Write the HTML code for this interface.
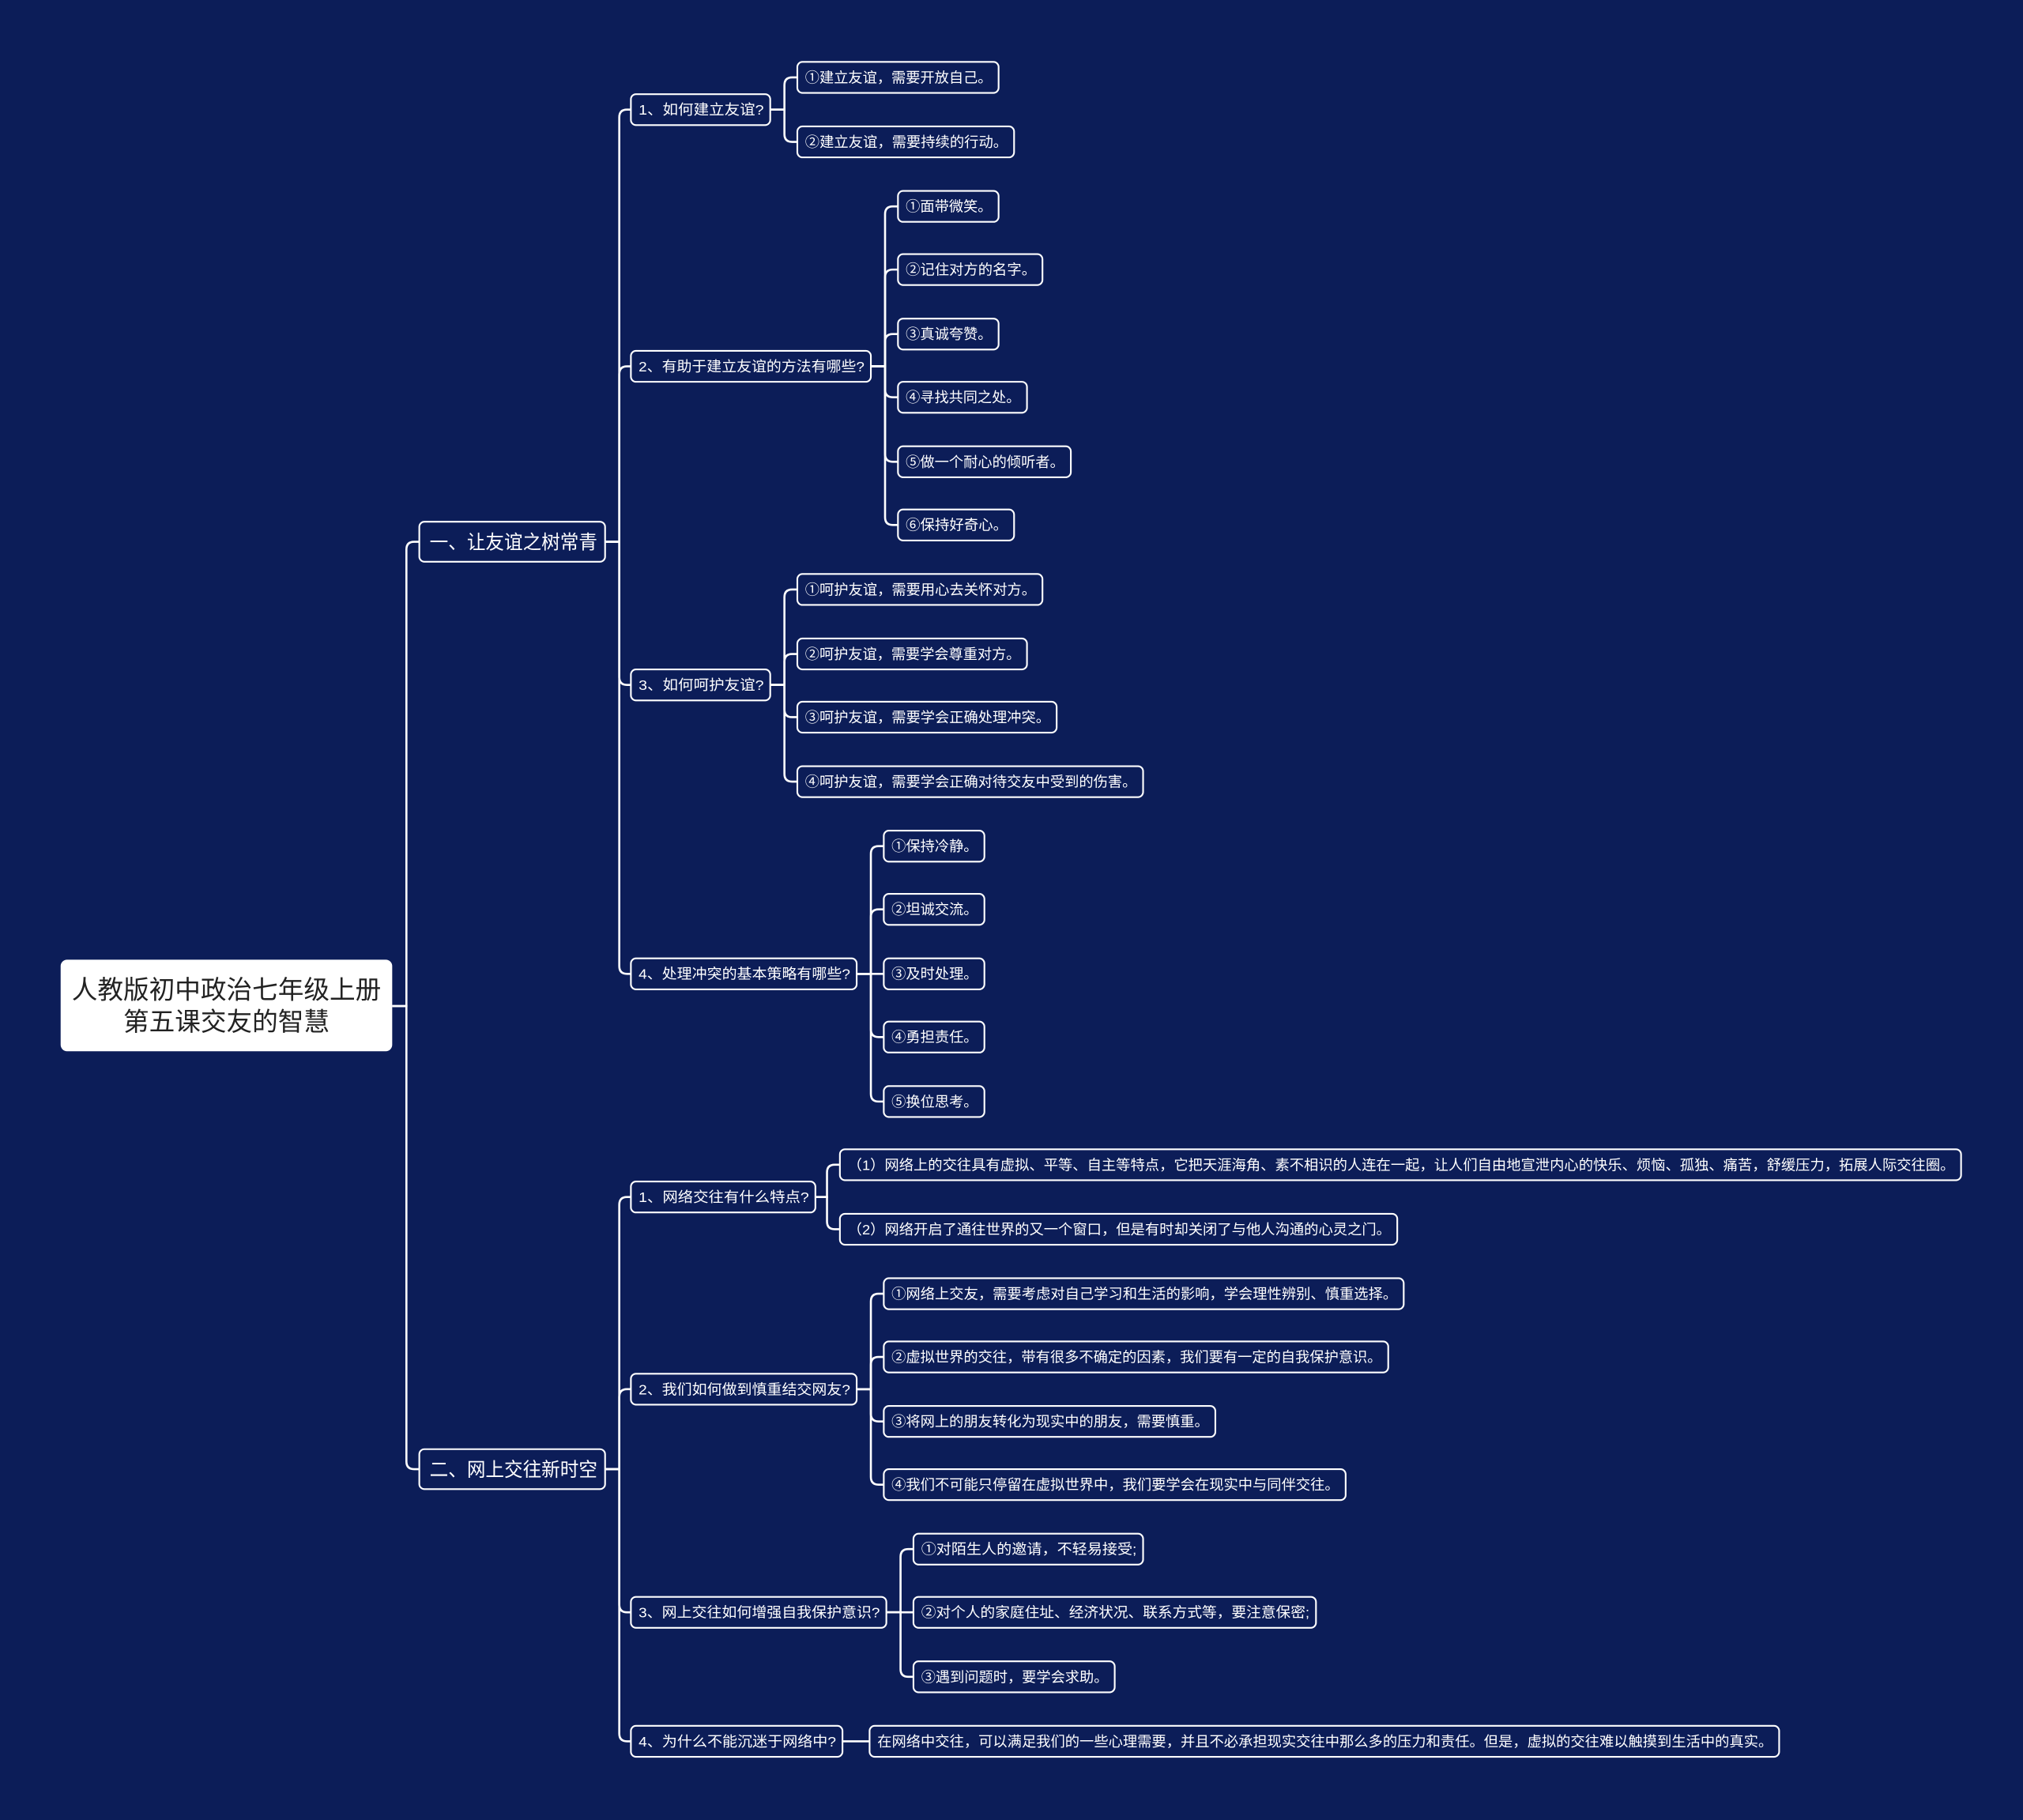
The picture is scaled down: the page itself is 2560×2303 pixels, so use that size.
<!DOCTYPE html>
<html><head><meta charset="utf-8"><style>
html,body{margin:0;padding:0;background:#0c1d58;}
svg{display:block}
text{font-family:"Liberation Sans","Noto Sans CJK SC",sans-serif;fill:#fff;}
</style></head><body>
<svg id="s" width="2560" height="2303" viewBox="0 0 1568 1411" preserveAspectRatio="none" xmlns="http://www.w3.org/2000/svg">
<rect width="1568" height="1411" fill="#0c1d58"/>
<g id="lines" fill="none" stroke="#fff" stroke-width="1.6"></g>
<g id="nodes"></g>
<rect x="47" y="744" width="257" height="71" rx="5" fill="#fff"/>
<text x="175.5" y="774" font-size="20" text-anchor="middle" style="fill:#222">人教版初中政治七年级上册</text>
<text x="175.5" y="799" font-size="20" text-anchor="middle" style="fill:#222">第五课交友的智慧</text>
</svg>
<script>
var NS="http://www.w3.org/2000/svg";
var lines=document.getElementById('lines'),nodes=document.getElementById('nodes');
function path(d){var p=document.createElementNS(NS,'path');p.setAttribute('d',d);lines.appendChild(p);}
function conn(px,py,bx,cx,cy){var r=6;
 if(Math.abs(cy-py)<1){path('M'+px+' '+py+' L'+cx+' '+cy);return;}
 var dir=cy>py?1:-1;
 path('M'+px+' '+py+' L'+bx+' '+py+' L'+bx+' '+(cy-dir*r)+' Q'+bx+' '+cy+' '+(bx+r)+' '+cy+' L'+cx+' '+cy);}
function box(x1,x2,cy,t,fs,h){h=h||24;fs=fs||11;
 var r=document.createElementNS(NS,'rect');r.setAttribute('x',x1);r.setAttribute('y',cy-h/2);r.setAttribute('width',x2-x1);r.setAttribute('height',h);r.setAttribute('rx',4);r.setAttribute('fill','#0c1d58');r.setAttribute('stroke','#fff');r.setAttribute('stroke-width','1.3');nodes.appendChild(r);
 var tx=document.createElementNS(NS,'text');tx.setAttribute('x',x1+(fs>12?8:6));tx.setAttribute('y',cy+fs*0.36);tx.setAttribute('font-size',fs);
 tx.setAttribute('textLength',(x2-x1)-(fs>12?14:11));tx.setAttribute('lengthAdjust','spacingAndGlyphs');tx.textContent=t;nodes.appendChild(tx);}
// root to L1
conn(304,780,315,325,420);conn(304,780,315,325,1139);
box(325,469,420,'一、让友谊之树常青',15,31);
box(325,469,1139,'二、网上交往新时空',15,31);
var groups=[
 {p:[469,420],l2:[489,597,85,'1、如何建立友谊?'],b:608,x:618,c:[[60,774,'①建立友谊，需要开放自己。'],[110,786,'②建立友谊，需要持续的行动。']]},
 {p:[469,420],l2:[489,675,284,'2、有助于建立友谊的方法有哪些?'],b:686,x:696,c:[[160,774,'①面带微笑。'],[209,808,'②记住对方的名字。'],[259,774,'③真诚夸赞。'],[308,796,'④寻找共同之处。'],[358,830,'⑤做一个耐心的倾听者。'],[407,786,'⑥保持好奇心。']]},
 {p:[469,420],l2:[489,597,531,'3、如何呵护友谊?'],b:608,x:618,c:[[457,808,'①呵护友谊，需要用心去关怀对方。'],[507,796,'②呵护友谊，需要学会尊重对方。'],[556,819,'③呵护友谊，需要学会正确处理冲突。'],[606,886,'④呵护友谊，需要学会正确对待交友中受到的伤害。']]},
 {p:[469,420],l2:[489,664,755,'4、处理冲突的基本策略有哪些?'],b:675,x:685,c:[[656,763,'①保持冷静。'],[705,763,'②坦诚交流。'],[755,763,'③及时处理。'],[804,763,'④勇担责任。'],[854,763,'⑤换位思考。']]},
 {p:[469,1139],l2:[489,632,928,'1、网络交往有什么特点?'],b:641,x:651,c:[[903,1520,'（1）网络上的交往具有虚拟、平等、自主等特点，它把天涯海角、素不相识的人连在一起，让人们自由地宣泄内心的快乐、烦恼、孤独、痛苦，舒缓压力，拓展人际交往圈。'],[953,1083,'（2）网络开启了通往世界的又一个窗口，但是有时却关闭了与他人沟通的心灵之门。']]},
 {p:[469,1139],l2:[489,664,1077,'2、我们如何做到慎重结交网友?'],b:675,x:685,c:[[1003,1088,'①网络上交友，需要考虑对自己学习和生活的影响，学会理性辨别、慎重选择。'],[1052,1076,'②虚拟世界的交往，带有很多不确定的因素，我们要有一定的自我保护意识。'],[1102,942,'③将网上的朋友转化为现实中的朋友，需要慎重。'],[1151,1043,'④我们不可能只停留在虚拟世界中，我们要学会在现实中与同伴交往。']]},
 {p:[469,1139],l2:[489,687,1250,'3、网上交往如何增强自我保护意识?'],b:698,x:708,c:[[1201,886,'①对陌生人的邀请，不轻易接受;'],[1250,1020,'②对个人的家庭住址、经济状况、联系方式等，要注意保密;'],[1300,864,'③遇到问题时，要学会求助。']]},
 {p:[469,1139],l2:[489,653,1350,'4、为什么不能沉迷于网络中?'],b:664,x:674,c:[[1350,1379,'在网络中交往，可以满足我们的一些心理需要，并且不必承担现实交往中那么多的压力和责任。但是，虚拟的交往难以触摸到生活中的真实。']]}
];
groups.forEach(function(g){
 conn(g.p[0],g.p[1],480,g.l2[0],g.l2[2]);
 box(g.l2[0],g.l2[1],g.l2[2],g.l2[3]);
 g.c.forEach(function(c){conn(g.l2[1],g.l2[2],g.b,g.x,c[0]);box(g.x,c[1],c[0],c[2]);});
});
</script>
</body></html>
